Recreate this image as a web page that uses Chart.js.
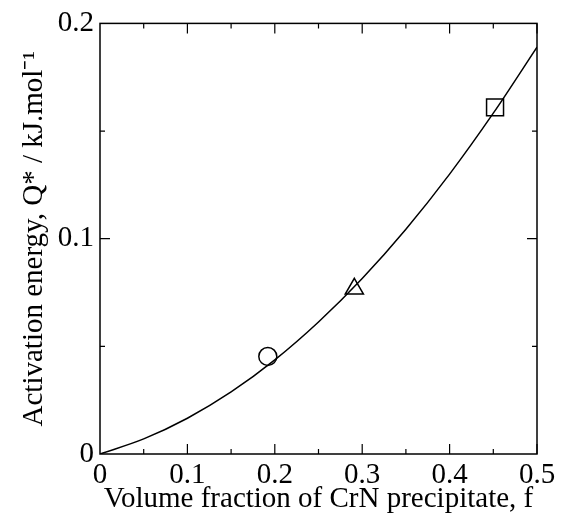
<!DOCTYPE html>
<html>
<head>
<meta charset="utf-8">
<script src="https://cdn.jsdelivr.net/npm/chart.js@4"></script>
<style>
  body { margin: 0; background: #fff; }
  #wrap { width: 561px; height: 523px; }
</style>
</head>
<body>
<div id="wrap"><canvas id="grafico"></canvas></div>
<script>
// curva (f, Q*)
const curvaF = [0, 0.05, 0.1, 0.15, 0.2, 0.25, 0.3, 0.35, 0.4, 0.45, 0.5];
const curvaQ = [0, 0.007, 0.0166, 0.0288, 0.0437, 0.0613, 0.0815, 0.1044, 0.130, 0.1583, 0.189];

// puntos experimentales
const circuloF = [0.192];
const circuloQ = [0.0453];
const trianguloF = [0.291];
const trianguloQ = [0.0767];
const cuadradoF = [0.452];
const cuadradoQ = [0.161];

const tituloX = "Volume fraction of CrN precipitate, f";
const tituloY = "Activation energy, Q* / kJ.mol\u207B\u00B9";

const fuente = "'Liberation Serif', 'Times New Roman', serif";

function puntos(xs, ys){
  return xs.map((x, i) => ({x: x, y: ys[i]}));
}

// marco y marcas hacia dentro en los cuatro lados
const marcoPlugin = {
  id: 'marco',
  afterDatasetsDraw(chart){
    const ctx = chart.ctx;
    const a = chart.chartArea;
    const sx = chart.scales.x;
    const sy = chart.scales.y;
    ctx.save();
    ctx.strokeStyle = '#000';
    ctx.lineWidth = 1.5;
    ctx.strokeRect(a.left, a.top, a.right - a.left, a.bottom - a.top);
    ctx.lineWidth = 1.2;
    ctx.beginPath();
    for(let v = 0.05; v < 0.5; v += 0.05){
      const px = sx.getPixelForValue(v);
      const largo = (Math.round(v * 20) % 2 === 0) ? 10 : 5;
      ctx.moveTo(px, a.bottom); ctx.lineTo(px, a.bottom - largo);
      ctx.moveTo(px, a.top); ctx.lineTo(px, a.top + largo);
    }
    for(let v = 0.05; v < 0.2; v += 0.05){
      const py = sy.getPixelForValue(v);
      const largo = (Math.round(v * 20) % 2 === 0) ? 10 : 5;
      ctx.moveTo(a.left, py); ctx.lineTo(a.left + largo, py);
      ctx.moveTo(a.right, py); ctx.lineTo(a.right - largo, py);
    }
    ctx.stroke();
    ctx.restore();
  }
};

const canvas = document.getElementById('grafico');
new Chart(canvas, {
  type: 'line',
  data: {
    datasets: [
      {
        label: 'curva',
        data: puntos(curvaF, curvaQ),
        borderColor: '#000',
        borderWidth: 1.5,
        pointRadius: 0,
        cubicInterpolationMode: 'monotone',
        fill: false
      },
      {
        type: 'scatter',
        label: 'circulo',
        data: puntos(circuloF, circuloQ),
        pointStyle: 'circle',
        pointRadius: 9,
        backgroundColor: '#fff',
        borderColor: '#000',
        borderWidth: 1.5
      },
      {
        type: 'scatter',
        label: 'triangulo',
        data: puntos(trianguloF, trianguloQ),
        pointStyle: 'triangle',
        pointRadius: 10.5,
        backgroundColor: '#fff',
        borderColor: '#000',
        borderWidth: 1.5
      },
      {
        type: 'scatter',
        label: 'cuadrado',
        data: puntos(cuadradoF, cuadradoQ),
        pointStyle: 'rect',
        pointRadius: 12,
        backgroundColor: '#fff',
        borderColor: '#000',
        borderWidth: 1.5
      }
    ]
  },
  options: {
    responsive: true,
    maintainAspectRatio: false,
    animation: false,
    layout: { padding: { top: 21, right: 24, bottom: 0, left: 0 } },
    plugins: { legend: { display: false }, tooltip: { enabled: false } },
    scales: {
      x: {
        type: 'linear',
        min: 0, max: 0.5,
        grid: { display: false, drawTicks: false },
        border: { display: false },
        ticks: { stepSize: 0.1, padding: 4, color: '#000', font: { family: fuente, size: 29 } },
        title: { display: true, text: tituloX, color: '#000', font: { family: fuente, size: 29 }, padding: { top: 0, bottom: 6 } },
        afterFit(scale){ scale.height = 69; }
      },
      y: {
        type: 'linear',
        min: 0, max: 0.2,
        grid: { display: false, drawTicks: false },
        border: { display: false },
        ticks: { stepSize: 0.1, padding: 6, color: '#000', font: { family: fuente, size: 29 } },
        title: { display: true, text: tituloY, color: '#000', font: { family: fuente, size: 29 }, padding: { top: 17, bottom: 0 } },
        afterFit(scale){ scale.width = 100; }
      }
    }
  },
  plugins: [marcoPlugin]
});
</script>
</body>
</html>
